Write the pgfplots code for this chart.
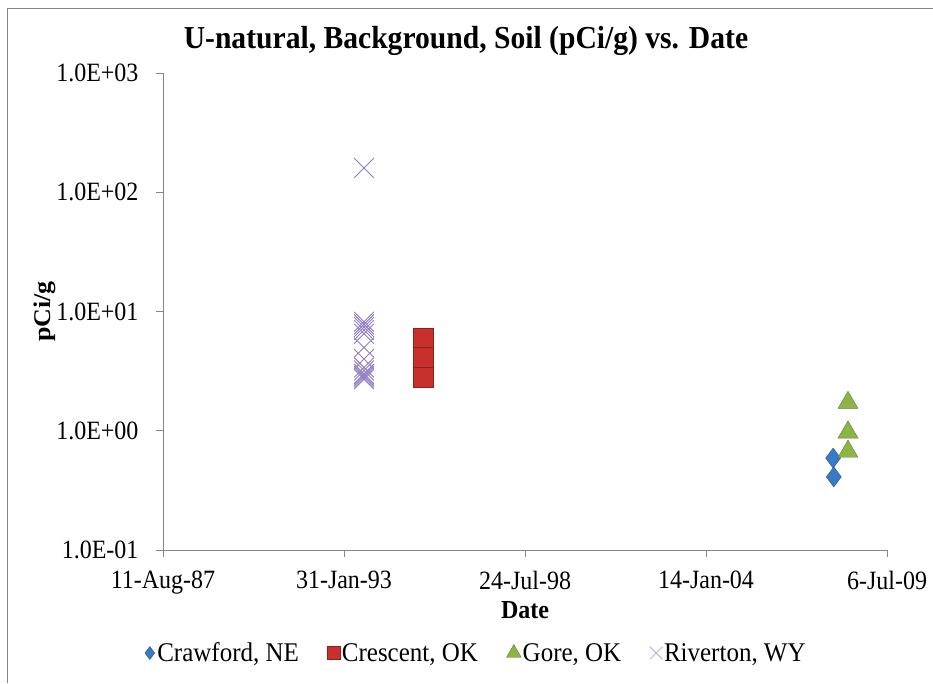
\documentclass[border=0pt]{standalone}
\usepackage{pgfplots}
\pgfplotsset{compat=1.18}
\usepackage{fontspec}
\setmainfont{Liberation Serif}
\definecolor{axgray}{RGB}{134,134,134}
\definecolor{crawf}{RGB}{58,121,196}
\definecolor{cresc}{RGB}{200,48,44}
\definecolor{gore}{RGB}{140,180,70}
\definecolor{rivx}{RGB}{145,125,195}
\definecolor{rivl}{RGB}{190,180,220}
\begin{document}
\begin{tikzpicture}
\begin{axis}[
  at={(0,0)}, anchor=south west,
  scale only axis, width=724pt, height=477pt,
  ymode=log, log basis y=10,
  xmin=32000, xmax=40000, ymin=0.1, ymax=1000,
  scaled x ticks=false,
  axis x line=bottom, axis y line=left,
  axis line style={axgray, line width=0.8pt, -},
  xtick={32000,34000,36000,38000,40000},
  xticklabels={11-Aug-87,31-Jan-93,24-Jul-98,14-Jan-04,6-Jul-09},
  ytick={0.1,1,10,100,1000},
  yticklabels={1.0E-01,1.0E+00,1.0E+01,1.0E+02,1.0E+03},
  minor y tick num=0, minor ytick={},
  tick align=outside, major tick length=7pt,
  tick style={axgray, line width=0.8pt},
  ticklabel style={font=\fontsize{24}{27}\selectfont, text=black, yscale=1.1},
  yticklabel style={anchor=east, xshift=-14pt},
  xticklabel style={anchor=north, yshift=-9pt},
  clip=false,
  legend style={at={(axis description cs:0.4316,-0.2160)}, anchor=center, draw=none, fill=none,
    legend columns=4, font=\fontsize{25}{28}\selectfont,
    nodes={inner sep=1.5pt, yscale=1.08},
    /tikz/every even column/.append style={column sep=27pt}},
  legend cell align=left,
  legend image code/.code={\draw[#1] plot coordinates {(6pt,0pt)}; \path[draw=none, fill=none, mark=none] (0pt,-5pt) (12pt,5pt);},
]
\addplot[only marks, mark=diamond*, mark size=10pt, color=crawf, mark options={fill=crawf, draw=crawf!70!black, line width=0.4pt},
  legend image post style={mark size=6.5pt}] coordinates {
(39405,0.59) (39412,0.41)
};
\addlegendentry{Crawford, NE}
\addplot[only marks, mark=square*, mark size=10pt, color=cresc, mark options={fill=cresc, draw=cresc!70!black, line width=0.4pt},
  legend image post style={mark size=6.5pt}] coordinates {
(34873,6.0) (34873,4.1) (34873,2.8)
};
\addlegendentry{Crescent, OK}
\addplot[only marks, mark=triangle*, mark size=11.5pt, color=gore, mark options={fill=gore, draw=gore!70!black, line width=0.4pt},
  legend image post style={mark size=8.5pt}] coordinates {
(39569,1.72) (39569,0.97) (39569,0.67)
};
\addlegendentry{Gore, OK}
\addplot[only marks, mark=x, mark size=14pt, color=rivx, mark options={line width=0.9pt},
  legend image post style={mark size=9pt, color=rivl}] coordinates {
(34221,160) (34221,8.2) (34221,7.8) (34221,7.4) (34221,7.0) (34221,6.5) (34221,5.0) (34221,4.0) (34221,3.4) (34221,3.2) (34221,3.0) (34221,2.9) (34221,2.8) (34221,2.7)
};
\addlegendentry{Riverton, WY}
\end{axis}
\node[font=\fontsize{29.6}{32}\selectfont\bfseries, yscale=1.08] at (303pt,509pt) {U-natural, Background, Soil (pCi/g) vs. Date};
\node[font=\fontsize{24}{27}\selectfont\bfseries, rotate=90, xscale=1.08] at (-118pt,238.5pt) {pCi/g};
\node[font=\fontsize{24}{27}\selectfont\bfseries, yscale=1.08] at (362pt,-60pt) {Date};
\draw[axgray, line width=0.8pt] (-156pt,-133pt) -- (-156pt,542pt) -- (770pt,542pt);
\pgfresetboundingbox
\path[use as bounding box] (-163pt,-133pt) rectangle (770pt,550pt);
\end{tikzpicture}
\end{document}
